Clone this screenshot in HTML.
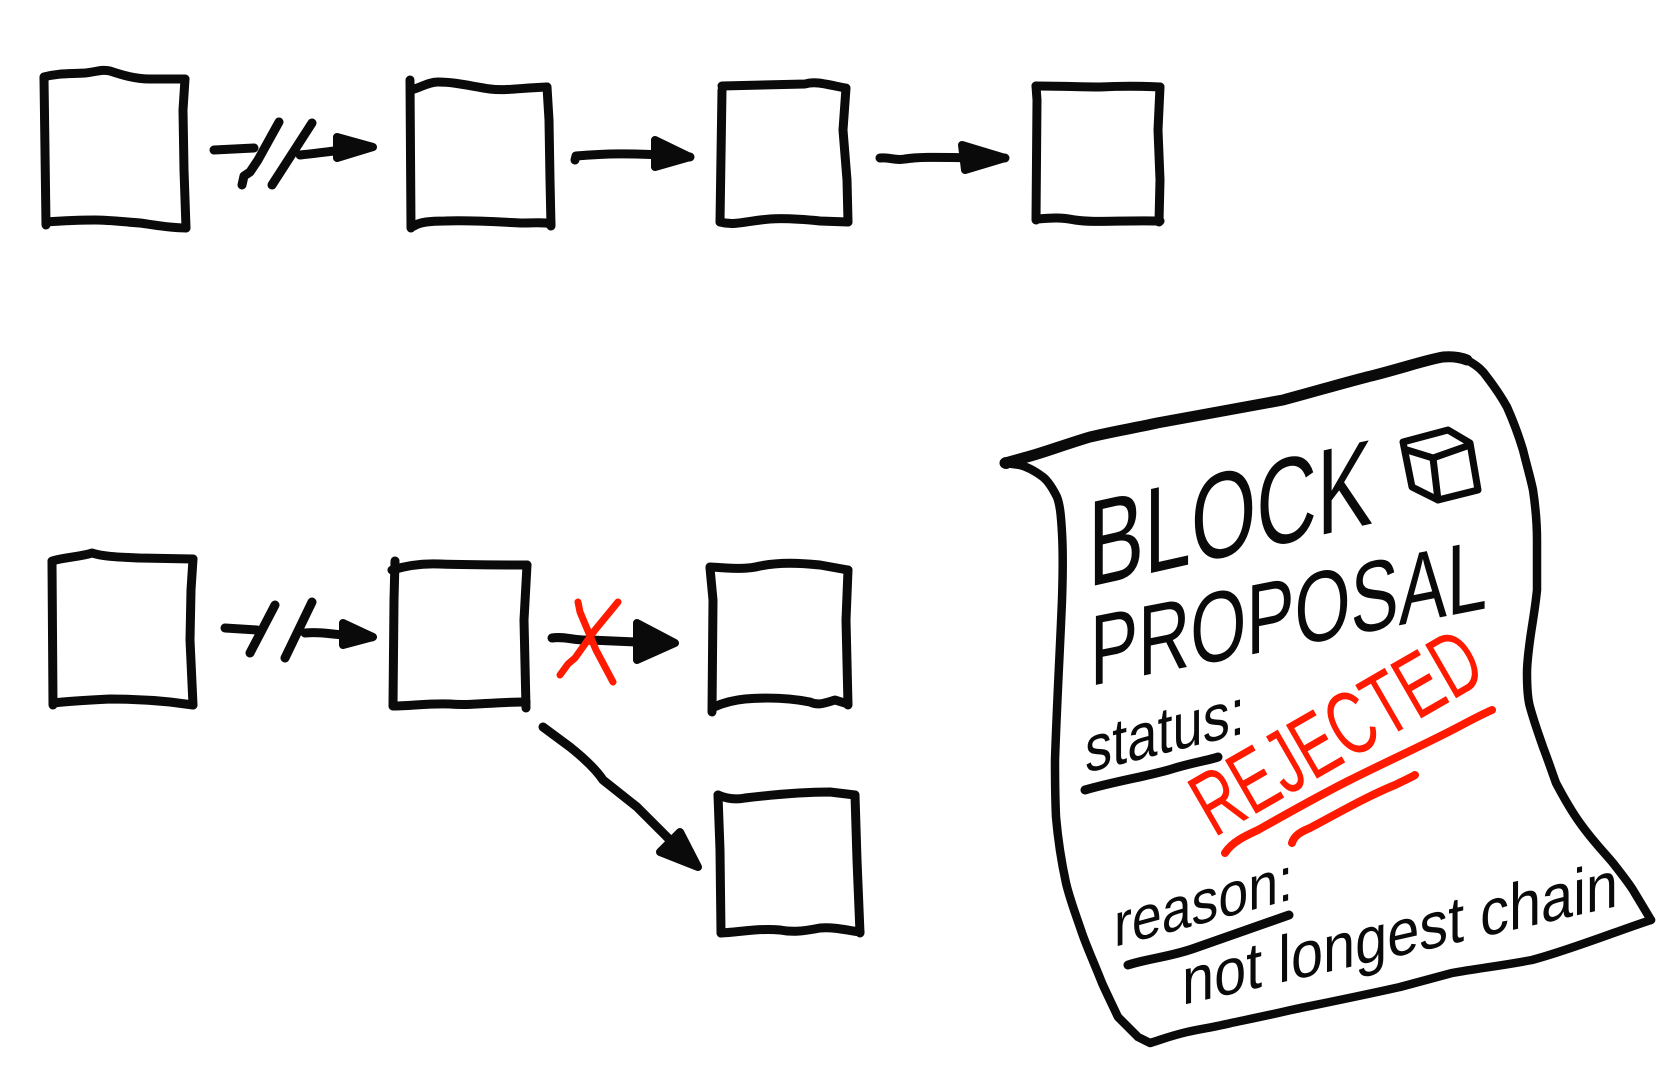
<!DOCTYPE html>
<html><head><meta charset="utf-8"><style>
html,body{margin:0;padding:0;background:#fff;}
svg{display:block;}
</style></head><body>
<svg width="1677" height="1083" viewBox="0 0 1677 1083" xmlns="http://www.w3.org/2000/svg">
<rect width="1677" height="1083" fill="#fff"/>
<g fill="none" stroke="#0a0a0a" stroke-width="9" stroke-linecap="round" stroke-linejoin="round">
<!-- Box A -->
<path d="M44,78 L46,225"/>
<path d="M44,77 C58,73 70,74 85,73 C96,72 102,69 110,71 C122,75 135,79 150,79 L185,79"/>
<path d="M185,79 L183,110 L184,170 L186,228"/>
<path d="M46,222 C60,221 75,220 95,220 C110,220 125,222 140,223 C155,225 170,228 186,228"/>
<!-- Box B -->
<path d="M410,80 L411,228"/>
<path d="M411,90 C420,88 428,82 438,82 C455,82 470,86 490,89 C505,91 520,88 547,87"/>
<path d="M547,87 L549,120 L550,180 L551,226"/>
<path d="M414,226 C420,222 430,221 445,221 C470,220 500,222 520,223 C535,223 545,222 551,224"/>
<!-- Box C -->
<path d="M722,90 L720,222"/>
<path d="M722,86 L805,84 C815,81 825,84 845,88"/>
<path d="M846,88 L843,130 L847,180 L848,222"/>
<path d="M720,222 C735,226 745,221 770,219 C785,218 800,219 820,221 L848,222"/>
<!-- Box D -->
<path d="M1036,86 L1037,100 L1036,220"/>
<path d="M1036,86 C1060,86 1080,87 1100,87 C1120,86 1140,86 1160,87"/>
<path d="M1160,87 L1158,130 L1160,180 L1159,222"/>
<path d="M1037,219 C1050,218 1060,217 1075,220 C1095,223 1120,220 1160,221"/>
<!-- Box E -->
<path d="M52,562 L53,705"/>
<path d="M52,561 C65,557 80,557 92,553 C105,557 120,557 140,558 L193,559"/>
<path d="M193,559 L191,590 L190,640 L193,705"/>
<path d="M53,703 C70,701 90,700 110,699 C130,699 150,700 170,702 L193,705"/>
<!-- Box F -->
<path d="M395,561 L394,600 L393,706"/>
<path d="M392,570 C405,566 420,563 440,564 C470,565 500,565 527,565"/>
<path d="M527,565 L524,620 L526,708"/>
<path d="M393,706 C410,706 430,703 450,704 C470,706 490,702 526,702"/>
<!-- Box G -->
<path d="M710,568 L713,600 L712,712"/>
<path d="M710,567 C730,568 745,570 760,566 C780,562 800,563 820,565 L848,570"/>
<path d="M848,570 L846,620 L848,705"/>
<path d="M714,707 C725,702 735,700 745,699 C770,697 790,698 810,702 C818,706 825,703 835,700 L848,704"/>
<!-- Box H -->
<path d="M718,795 L720,850 L721,933"/>
<path d="M718,795 C725,798 735,800 745,798 C770,795 800,792 830,792 L855,795"/>
<path d="M855,795 L857,860 L860,933"/>
<path d="M721,933 C740,932 760,928 780,930 C790,932 800,932 820,928 C835,927 845,930 860,932"/>

<!-- Top arrow 1 (broken) -->
<path d="M214,150 L254,148"/>
<path d="M279,122 L258,160 L250,172 L244,176 L242,185"/>
<path d="M312,123 L272,185"/>
<path d="M300,155 C320,153 340,150 371,147"/>
<!-- Top arrow 2 -->
<path d="M575,160 L576,156 C600,154 630,152 690,157"/>
<!-- Top arrow 3 -->
<path d="M880,158 C890,157 895,161 905,159 C925,156 950,158 1005,158"/>
<!-- Bottom arrow (broken) -->
<path d="M225,628 L257,630"/>
<path d="M275,605 L250,653"/>
<path d="M312,602 L285,658"/>
<path d="M305,633 C325,631 345,637 372,637"/>
<!-- Bottom arrow to G -->
<path d="M552,638 C565,636 575,641 590,640 L637,642"/>
<!-- Diagonal arrow -->
<path d="M543,727 L570,747 C580,755 595,768 603,780 L637,807 L670,840 L690,860"/>
</g>
<!-- Arrowheads -->
<g fill="#0a0a0a" stroke="#0a0a0a" stroke-width="8" stroke-linejoin="round">
<polygon points="337,137 373,147 337,158"/>
<polygon points="655,140 690,157 655,167"/>
<polygon points="962,145 1005,158 965,170"/>
<polygon points="343,623 373,637 343,645"/>
<polygon points="637,623 675,643 637,660"/>
<polygon points="680,832 660,852 698,867"/>
</g>
<!-- Red X -->
<g fill="none" stroke="#ff1a00" stroke-width="7" stroke-linecap="round" stroke-linejoin="round">
<path d="M578,602 L580,612 L596,650 L613,682"/>
<path d="M618,602 L595,630 L575,658 L568,664 L560,675"/>
</g>

<!-- Paper -->
<g fill="none" stroke="#0a0a0a" stroke-linecap="round" stroke-linejoin="round">
<path stroke-width="11" d="M1005,463 L1023,458 C1040,454 1060,446 1090,437 C1120,430 1135,428 1157,423 C1200,415 1230,410 1283,400 C1320,390 1340,384 1367,377 C1400,369 1425,360 1443,357 C1455,356 1462,358 1467,360"/>
<path stroke-width="8.5" d="M1467,360 C1478,366 1483,371 1487,377 C1497,390 1502,398 1507,407 C1515,425 1520,440 1523,450 C1528,470 1531,480 1533,490 C1536,510 1537,525 1537,540 L1537,590 C1535,610 1532,625 1530,640 C1528,655 1527,665 1527,673 C1527,690 1528,700 1530,707 C1535,725 1540,738 1543,747 C1548,760 1552,772 1556,783 C1565,800 1572,812 1580,823 C1592,840 1602,850 1613,863 C1620,872 1628,882 1633,890 L1651,920"/>
<path stroke-width="8.5" d="M1651,920 C1620,930 1570,950 1532,960 C1500,966 1480,968 1452,973 C1430,979 1415,983 1400,987 C1360,996 1320,1004 1291,1010 C1270,1015 1250,1019 1231,1023 C1215,1027 1200,1029 1187,1032 C1170,1036 1160,1040 1150,1043 L1138,1037 L1118,1017 C1110,1000 1106,992 1102,983 C1095,965 1088,950 1082,933 C1076,915 1070,900 1066,883 C1061,860 1058,840 1056,817 C1055,795 1055,777 1055,760 C1057,700 1060,650 1062,600 C1063,570 1063,550 1062,533 C1061,515 1060,505 1057,497 C1052,487 1048,481 1043,477 C1035,471 1028,467 1020,465 L1005,463"/>
<circle cx="1006" cy="463" r="6" fill="#0a0a0a" stroke="none"/>
<!-- cube -->
<g stroke-width="7">
<polygon points="1403,442 1448,430 1470,443 1478,490 1438,500 1412,487"/>
<polyline points="1407,450 1433,458 1470,445"/>
<polyline points="1433,458 1438,500"/>
</g>
<!-- underlines -->
<path stroke-width="9" d="M1085,790 C1120,780 1150,776 1175,768 C1195,762 1210,760 1218,757"/>
<path stroke-width="9" d="M1128,965 C1150,958 1170,957 1195,948 C1230,936 1260,925 1289,915"/>
</g>
<g fill="none" stroke="#ff1a00" stroke-width="8" stroke-linecap="round" stroke-linejoin="round">
<path d="M1225,853 C1232,842 1245,836 1258,830 C1290,812 1320,795 1350,780 C1390,760 1430,742 1460,726 C1475,718 1485,713 1492,710"/>
<path d="M1292,843 C1294,836 1300,832 1310,828 C1340,812 1370,795 1395,785 C1405,780 1412,777 1415,775"/>
</g>

<!-- Text -->
<g font-family="'Liberation Sans', 'DejaVu Sans', sans-serif" fill="#0a0a0a">
<text transform="translate(1088,587) skewY(-12.6)" x="0" y="0" font-size="122" textLength="285" lengthAdjust="spacingAndGlyphs">BLOCK</text>
<text transform="translate(1090,686) skewY(-11.1)" x="0" y="0" font-size="100" textLength="397" lengthAdjust="spacingAndGlyphs">PROPOSAL</text>
<text transform="translate(1085,773) skewY(-14)" x="0" y="0" font-size="66" textLength="160" lengthAdjust="spacingAndGlyphs">status:</text>
<text transform="translate(1114,947) skewY(-15)" x="0" y="0" font-size="62" textLength="179" lengthAdjust="spacingAndGlyphs">reason:</text>
<text transform="translate(1182,1005) skewY(-12.8)" x="0" y="0" font-size="66" textLength="436" lengthAdjust="spacingAndGlyphs">not longest chain</text>
<text transform="translate(1214,838) rotate(-30)" x="0" y="0" font-size="90" fill="#ff1a00" textLength="318" lengthAdjust="spacingAndGlyphs">REJECTED</text>
</g>
</svg>
</body></html>
